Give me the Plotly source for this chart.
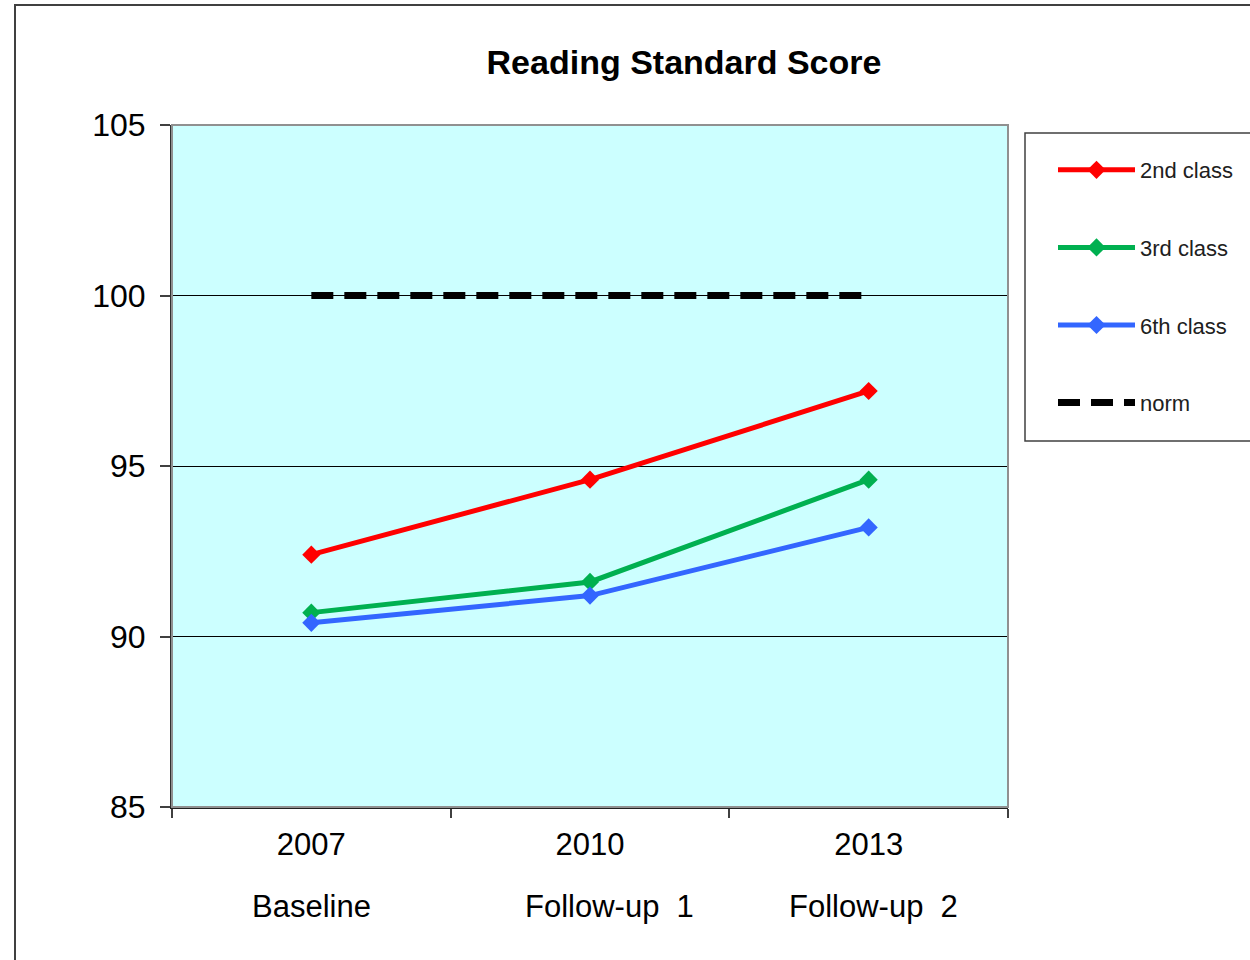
import plotly.graph_objects as go

# ---- data ----
years = ["2007", "2010", "2013"]
phases = ["Baseline", "Follow-up  1", "Follow-up  2"]
second_class = [92.4, 94.6, 97.2]
third_class = [90.7, 91.6, 94.6]
sixth_class = [90.4, 91.2, 93.2]
norm = [100, 100, 100]
y_ticks = [85, 90, 95, 100, 105]

FONT = "Liberation Sans, Arial, sans-serif"

fig = go.Figure()
series = [
    ("2nd class", second_class, "#FF0000"),
    ("3rd class", third_class, "#00B050"),
    ("6th class", sixth_class, "#3366FF"),
]
for i, (name, vals, col) in enumerate(series):
    fig.add_trace(go.Scatter(
        x=years, y=vals, name=name, mode="lines+markers",
        line=dict(color=col, width=5),
        marker=dict(symbol="diamond", size=14, color=col),
        legendgroup=f"g{i}",
    ))
fig.add_trace(go.Scatter(
    x=years, y=norm, name="norm", mode="lines",
    line=dict(color="black", width=7, dash="22px,11px"),
    legendgroup="g3",
))

OFF = 0  # body margin removed via post_script
W, H = 1250, 960
L, R, T, B = 172, 1008, 125, 807
pw, ph = R - L, B - T

def px_x(x):
    return (x - OFF - L) / pw

def px_y(y):
    return (B - (y - OFF)) / ph

# subtitles under the year ticks
xshifts = [0, 19, 5]
for i, p in enumerate(phases):
    fig.add_annotation(
        x=i, y=px_y(906), xref="x", yref="paper", text=p, showarrow=False,
        xanchor="center", yanchor="middle", xshift=xshifts[i],
        font=dict(family=FONT, size=31, color="black"),
    )

shapes = [
    dict(type="rect", xref="paper", yref="paper",
         x0=px_x(15), x1=px_x(1300), y0=px_y(5), y1=px_y(1000),
         line=dict(color="#404040", width=2), layer="below"),
    dict(type="rect", xref="paper", yref="paper", x0=0, x1=1, y0=0, y1=1,
         line=dict(color="#909090", width=2), layer="above"),
    dict(type="rect", xref="paper", yref="paper",
         x0=px_x(1025), x1=px_x(1300), y0=px_y(441), y1=px_y(133),
         line=dict(color="#404040", width=1.5)),
]

fig.update_layout(
    width=W, height=H,
    margin=dict(l=L, r=W - R, t=T, b=H - B, autoexpand=False),
    paper_bgcolor="white",
    plot_bgcolor="#CCFFFF",
    font=dict(family=FONT, color="black"),
    title=dict(text="<b>Reading Standard Score</b>", x=px_x(684), xref="paper",
               xanchor="center", y=1 - (62 - OFF) / H, yanchor="middle",
               font=dict(family=FONT, size=34, color="black")),
    showlegend=True,
    legend=dict(x=px_x(1053), y=px_y(149), xanchor="left", yanchor="top",
                bgcolor="rgba(0,0,0,0)", borderwidth=0,
                traceorder="grouped", tracegroupgap=46, itemwidth=77,
                font=dict(family=FONT, size=22, color="#202020")),
    shapes=shapes,
)

fig.update_xaxes(
    type="category", range=[-0.5, 2.5], tickson="boundaries",
    ticks="outside", ticklen=9, tickcolor="#404040", tickwidth=1.5,
    showline=True, linecolor="#202020", linewidth=2,
    showgrid=False, zeroline=False,
    tickfont=dict(family=FONT, size=31, color="black"),
    ticklabelstandoff=9,
)
fig.update_yaxes(
    range=[85, 105], tickvals=y_ticks,
    ticks="outside", ticklen=10, tickcolor="#404040", tickwidth=1.5,
    showline=True, linecolor="#303030", linewidth=2,
    showgrid=True, gridcolor="black", gridwidth=1,
    zeroline=False,
    tickfont=dict(family=FONT, size=32, color="black"),
    ticklabelstandoff=8,
)

fig.write_html("out.html", config={"displayModeBar": False},
               post_script="document.body.style.margin='0';document.body.style.overflow='hidden';")
